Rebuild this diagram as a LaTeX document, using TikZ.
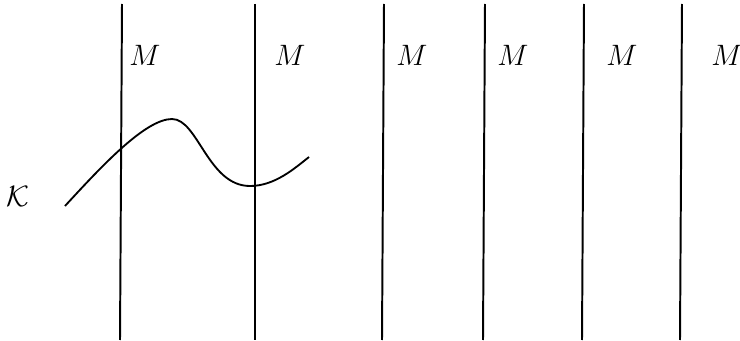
\documentclass[tikz,border=0pt]{standalone}
\usepackage{amsmath,amssymb}
\usepackage{tikz}
\usetikzlibrary{positioning,calc}

\begin{document}
\begin{tikzpicture}[
        x=0.0143cm, y=-0.0143cm,
        font=\large,
        wall/.style={line width=0.8pt},
        knot/.style={line width=0.75pt},
        lbl/.style={inner sep=0pt}
    ]
    \useasboundingbox (0,0) rectangle (740,341);

    % Vertical lines with their labels
    \foreach \i/\xt/\xb/\xl in {1/122/120/145, 2/255/255/290, 3/384/382/412,
                                4/485/483/513, 5/584/582/622, 6/682/680/727} {
        \coordinate (top\i) at (\xt,4);
        \coordinate (bot\i) at (\xb,340);
        \draw[wall] (top\i) -- (bot\i);
        \node[lbl] (m\i) at (\xl,55) {$M$};
    }

    % Curve
    \node[lbl] (knotlabel) at (18,196) {$\mathcal{K}$};
    \coordinate (kstart) at (65,206);
    \coordinate (kpeak) at (172,119);
    \coordinate (kdip) at (250,186);
    \coordinate (kend) at (309,157);
    \draw[knot] (kstart) .. controls (100,168) and (145,119) .. (kpeak)
        .. controls (198,119) and (208,186) .. (kdip)
        .. controls (275,186) and (295,168) .. (kend);

\end{tikzpicture}
\end{document}
